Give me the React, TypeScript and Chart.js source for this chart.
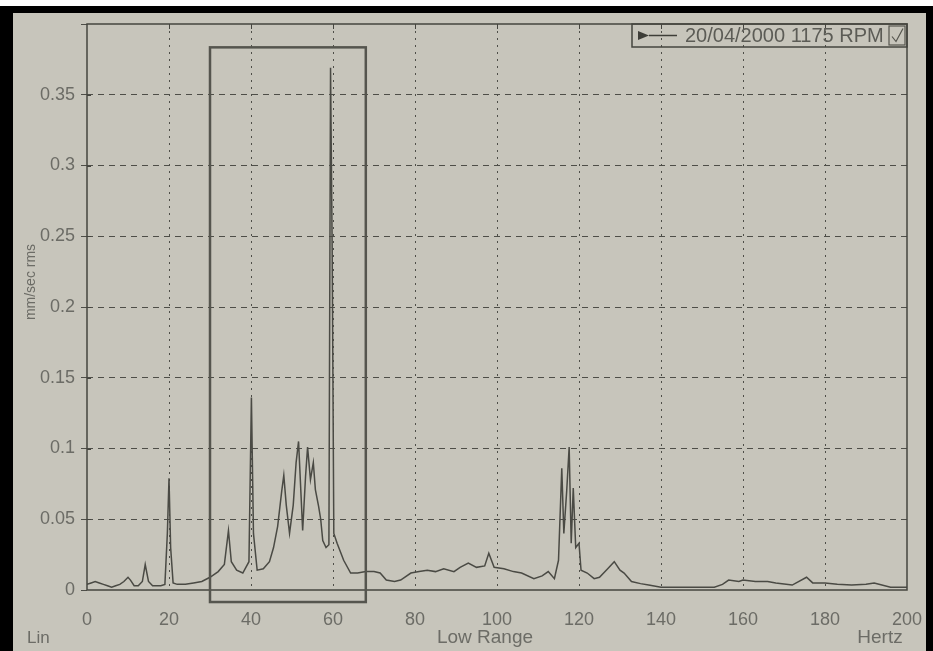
import React, { useEffect, useRef } from "react";
import { Chart, registerables } from "chart.js";

Chart.register(...registerables);

// ---- data ----
const freqHz = [
  0, 1, 2, 3, 4, 5, 6, 7, 8, 9, 10, 10.6, 11.5, 12.5, 13.5, 14.2, 15, 16, 17, 18, 19, 19.6, 20, 20.4, 21, 22, 24, 26, 28, 30,
  32, 33.5, 34.5, 35.2, 36.5, 38, 39.5, 40.1, 40.6, 41.5, 43, 44.5, 45.5, 46.5, 47.5, 48, 48.6, 49.4, 50.3, 51, 51.6, 52.6,
  53.3, 53.8, 54.5, 55.2, 55.7, 56.5, 57, 57.5, 58.3, 59, 59.4, 59.8, 60.2, 61, 62.6, 64.3, 66, 68, 70, 71.5, 73, 75, 76.5,
  79, 81, 83, 85, 87, 89.5, 91, 93, 95, 97, 98, 99.3, 101.7, 104, 106, 109, 111, 112.5, 114, 115, 115.8, 116.3, 117, 117.6,
  118.1, 118.6, 119.2, 120, 120.5, 122, 123.7, 125, 127, 128.6, 130, 131, 132.8, 135, 137, 140, 145, 150, 153, 155, 156.5,
  159, 160, 163, 166, 168, 172, 175.5, 177, 180, 183, 186.5, 190, 192, 196, 200,
];
const amplitude = [
  0.004, 0.005, 0.006, 0.005, 0.004, 0.003, 0.002, 0.003, 0.004, 0.006, 0.009, 0.007, 0.003, 0.003, 0.006, 0.018, 0.006,
  0.003, 0.003, 0.003, 0.004, 0.04, 0.079, 0.03, 0.005, 0.004, 0.004, 0.005, 0.006, 0.009,
  0.013, 0.018, 0.042, 0.02, 0.014, 0.012, 0.02, 0.136, 0.04, 0.014, 0.015, 0.02, 0.03, 0.045, 0.07, 0.081, 0.06, 0.04,
  0.06, 0.09, 0.105, 0.042, 0.08, 0.101, 0.078, 0.09, 0.071, 0.059, 0.05, 0.035, 0.03, 0.032, 0.369, 0.24, 0.04, 0.033,
  0.021, 0.012, 0.012, 0.013, 0.013, 0.012, 0.007, 0.006, 0.007,
  0.012, 0.013, 0.014, 0.013, 0.015, 0.013, 0.016, 0.019, 0.016, 0.017, 0.026, 0.016, 0.015, 0.013, 0.012, 0.008, 0.01,
  0.013, 0.008, 0.021, 0.086, 0.04, 0.07, 0.101, 0.033, 0.072, 0.03, 0.033, 0.014, 0.012, 0.008, 0.009, 0.015, 0.02,
  0.014, 0.012, 0.006, 0.0045, 0.0035, 0.002, 0.002, 0.002, 0.002, 0.004, 0.007, 0.006, 0.007, 0.006, 0.006, 0.005,
  0.0035, 0.009, 0.005, 0.005, 0.004, 0.0035, 0.004, 0.005, 0.002, 0.002,
];
const xMin = 0;
const xMax = 200;
const xStep = 20;
const yMin = 0;
const yMax = 0.4;
const yStep = 0.05;
const legendLabel = "20/04/2000 1175 RPM";
const yTitle = "mm/sec rms";
const xTitle = "Low Range";
const xUnit = "Hertz";
const scaleMode = "Lin";
// highlighted region (data coordinates)
const boxHz = [30, 68];
const boxAmp = [-0.0085, 0.3835];

const BG = "#c7c5bb";
const INK = "#45453f";
const TEXT = "#6c6c66";
const FONT = "'Liberation Sans', Arial, sans-serif";

export default function App() {
  const ref = useRef<HTMLCanvasElement | null>(null);

  useEffect(() => {
    const canvas = ref.current;
    if (!canvas) return;
    const points = freqHz.map((f, i) => ({ x: f, y: amplitude[i] }));

    const decor = {
      id: "decor",
      beforeDraw(chart: any) {
        const c = chart.ctx;
        const W = chart.width;
        const H = chart.height;
        c.save();
        c.fillStyle = "#000";
        c.fillRect(0, 0, W, H);
        c.fillStyle = "#fff";
        c.fillRect(0, 0, W, 6);
        c.fillStyle = BG;
        c.fillRect(13, 13, W - 20, H - 13);
        c.restore();
      },
      afterDraw(chart: any) {
        const c = chart.ctx;
        const a = chart.chartArea;
        const xs = chart.scales.x;
        const ys = chart.scales.y;
        c.save();
        // plot frame
        c.strokeStyle = INK;
        c.lineWidth = 1.5;
        c.strokeRect(a.left, a.top, a.right - a.left, a.bottom - a.top);
        // small ticks on top border and crossing ticks on the value axis
        c.lineWidth = 1;
        for (let v = xMin + xStep; v < xMax; v += xStep) {
          const px = Math.round(xs.getPixelForValue(v)) + 0.5;
          c.beginPath();
          c.moveTo(px, a.top);
          c.lineTo(px, a.top + 5);
          c.stroke();
        }
        for (let v = yMin + yStep; v < yMax - 1e-9; v += yStep) {
          const py = Math.round(ys.getPixelForValue(v)) + 0.5;
          c.beginPath();
          c.moveTo(a.left, py);
          c.lineTo(a.left + 4, py);
          c.stroke();
        }
        // highlight box
        c.strokeStyle = "#55554e";
        c.lineWidth = 2.5;
        const bx1 = xs.getPixelForValue(boxHz[0]);
        const bx2 = xs.getPixelForValue(boxHz[1]);
        const by1 = ys.getPixelForValue(boxAmp[1]);
        const by2 = ys.getPixelForValue(boxAmp[0]);
        c.strokeRect(bx1, by1, bx2 - bx1, by2 - by1);

        // legend box
        const lx = 632;
        const lr = a.right;
        const ly = a.top;
        const lh = 23;
        c.lineWidth = 1.5;
        c.strokeStyle = INK;
        c.strokeRect(lx, ly, lr - lx, lh);
        const cy = ly + lh / 2;
        c.fillStyle = "#3e3e38";
        c.beginPath();
        c.moveTo(638, cy - 4.5);
        c.lineTo(649, cy);
        c.lineTo(638, cy + 4.5);
        c.closePath();
        c.fill();
        c.strokeStyle = "#3e3e38";
        c.lineWidth = 1.5;
        c.beginPath();
        c.moveTo(649, cy);
        c.lineTo(677, cy);
        c.stroke();
        c.fillStyle = "#5c5c56";
        c.font = `20px ${FONT}`;
        c.textAlign = "left";
        c.textBaseline = "middle";
        c.fillText(legendLabel, 685, cy + 1);
        // checkbox
        c.strokeStyle = "#55554e";
        c.lineWidth = 1.2;
        c.strokeRect(lr - 18, ly + 2, 16, lh - 4);
        c.beginPath();
        c.moveTo(lr - 15, cy + 1);
        c.lineTo(lr - 11, cy + 6);
        c.lineTo(lr - 4, cy - 7);
        c.stroke();

        // axis titles
        c.fillStyle = TEXT;
        c.font = `14px ${FONT}`;
        c.textBaseline = "middle";
        c.save();
        c.translate(31, 282);
        c.rotate(-Math.PI / 2);
        c.textAlign = "center";
        c.fillText(yTitle, 0, 0);
        c.restore();
        c.textAlign = "left";
        c.font = `17px ${FONT}`;
        c.fillText(scaleMode, 27, 638);
        c.textAlign = "center";
        c.font = `19px ${FONT}`;
        c.fillText(xTitle, 485, 638);
        c.fillText(xUnit, 880, 638);
        c.restore();
      },
    };

    const chart = new Chart(canvas, {
      type: "line",
      data: {
        datasets: [
          {
            label: legendLabel,
            data: points,
            borderColor: "#4a4a44",
            borderWidth: 1.5,
            pointRadius: 0,
            tension: 0,
            fill: false,
          },
        ],
      },
      options: {
        animation: false,
        responsive: false,
        devicePixelRatio: 1,
        layout: { padding: { left: 0, right: 26, top: 24, bottom: 0 } },
        plugins: { legend: { display: false }, tooltip: { enabled: false } },
        scales: {
          x: {
            type: "linear",
            min: xMin,
            max: xMax,
            afterFit: (s: any) => {
              s.height = 61;
              s.paddingLeft = 0;
              s.paddingRight = 0;
            },
            ticks: {
              stepSize: xStep,
              color: TEXT,
              font: { family: FONT, size: 18 },
              padding: 19,
              maxRotation: 0,
              autoSkip: false,
            },
            grid: {
              color: (ctx: any) =>
                ctx.tick && (ctx.tick.value === xMin || ctx.tick.value === xMax) ? "rgba(0,0,0,0)" : "#4e4e48",
              lineWidth: 1,
              drawTicks: false,
            },
            border: { display: false, dash: [2, 5] },
          },
          y: {
            type: "linear",
            min: yMin,
            max: yMax,
            afterFit: (s: any) => {
              s.width = 87;
              s.paddingTop = 0;
              s.paddingBottom = 0;
            },
            ticks: {
              stepSize: yStep,
              color: TEXT,
              font: { family: FONT, size: 18 },
              padding: 6,
              callback: (v: any) => (Number(v) >= yMax - 1e-9 ? "" : String(Number(Number(v).toFixed(2)))),
            },
            grid: {
              color: (ctx: any) =>
                ctx.tick && (ctx.tick.value <= yMin + 1e-9 || ctx.tick.value >= yMax - 1e-9) ? "rgba(0,0,0,0)" : "#4e4e48",
              lineWidth: 1,
              drawTicks: true,
              tickLength: 6,
              tickColor: "#4e4e48",
            },
            border: { display: false, dash: [6, 5] },
          },
        },
      },
      plugins: [decor],
    } as any);

    return () => chart.destroy();
  }, []);

  return (
    <div style={{ position: "absolute", left: 0, top: 0, width: 933, height: 651 }}>
      <canvas ref={ref} width={933} height={651} style={{ display: "block" }} />
    </div>
  );
}
